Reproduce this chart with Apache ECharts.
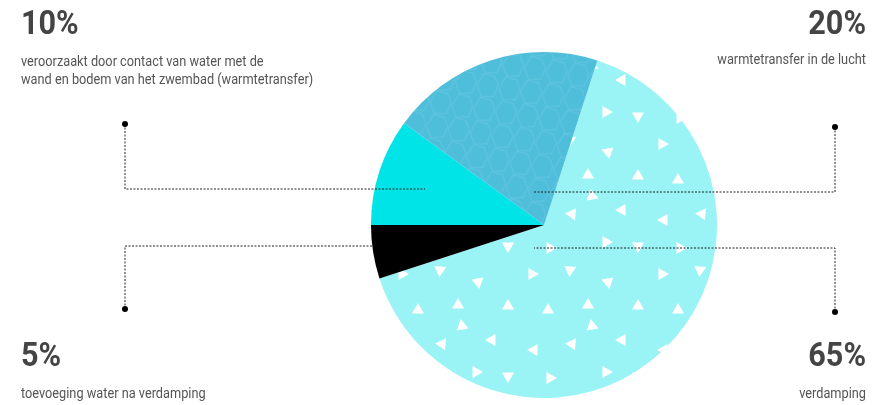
<!DOCTYPE html>
<html>
<head>
<meta charset="utf-8">
<script src="https://cdn.jsdelivr.net/npm/echarts@6/dist/echarts.min.js"></script>
<style>
html,body{margin:0;padding:0;background:#fff;}
#chart{width:874px;height:405px;}
</style>
</head>
<body>
<div id="chart"></div>
<script>
// Data (clockwise order starting near top)
const categories = ['verdamping', 'toevoeging water na verdamping', 'veroorzaakt door contact van water met de wand en bodem van het zwembad (warmtetransfer)', 'warmtetransfer in de lucht'];
const values = [65, 5, 10, 20];
const percentLabels = ['65%', '5%', '10%', '20%'];
const descLines = [
  ['verdamping'],
  ['toevoeging water na verdamping'],
  ['veroorzaakt door contact van water met de', 'wand en bodem van het zwembad (warmtetransfer)'],
  ['warmtetransfer in de lucht']
];
const colors = ['#9af3f5', '#000000', '#00e4e8', '#4fbedb'];

// decorative triangle texture (hand placed centers/angles in a 130px tile)
const tri = [[12,14,0],[50,10,95],[88,22,200],[118,46,30],[28,50,150],[68,45,270],[102,80,60],[14,90,300],[52,84,185],[86,112,120],[30,118,240],[118,116,330],[72,66,20]];
function triPath(list, size, tile) {
  let p = 'M0 0 L0.05 0 L0 0.05 Z M' + tile + ' ' + tile + ' L' + (tile-0.05) + ' ' + tile + ' L' + tile + ' ' + (tile-0.05) + ' Z ';
  list.forEach(([cx, cy, a]) => {
    const pts = [0, 120, 240].map(d => {
      const r = (a + d) * Math.PI / 180;
      return [(cx + size * Math.cos(r)).toFixed(2), (cy + size * Math.sin(r)).toFixed(2)];
    });
    p += 'M' + pts[0].join(' ') + ' L' + pts[1].join(' ') + ' L' + pts[2].join(' ') + ' Z ';
  });
  return 'path://' + p;
}
// cell outline texture for the 20% slice
function ringPath() {
  const outer = [[6,0],[17,1],[22,10],[19,22],[7,24],[1,13]];
  const inner = [[6.8,1],[16.4,1.9],[21,10.1],[18.3,21.1],[7.5,23],[2,12.8]];
  let p = 'M' + outer.map(q => q.join(' ')).join(' L') + ' Z ';
  p += 'M' + inner.slice().reverse().map(q => q.join(' ')).join(' L') + ' Z';
  return 'path://' + p;
}

const chart = echarts.init(document.getElementById('chart'), null, {renderer: 'canvas'});

const data = values.map((v, i) => {
  const item = { name: categories[i], value: v, itemStyle: { color: colors[i] } };
  if (i === 0) {
    item.itemStyle.decal = {
      symbol: triPath(tri, 7, 130), symbolSize: 1, symbolKeepAspect: true,
      color: '#ffffff', dashArrayX: [[130, 0]], dashArrayY: [130, 0], rotation: 0
    };
  }
  if (i === 3) {
    item.itemStyle.decal = {
      symbol: ringPath(), symbolSize: 1, symbolKeepAspect: false,
      color: 'rgba(255,255,255,0.11)', dashArrayX: [[22, 0]], dashArrayY: [24, 0], rotation: 0.15
    };
  }
  return item;
});

const txtColor = '#444444';
const pctFont = 'bold 34px Roboto';
const descFont = '15px Roboto';

function textEl(str, x, y, align, font, color, sx) {
  return { type: 'text', x: x, y: y, scaleX: sx, z: 100,
    style: { text: str, font: font, fill: color, align: align, verticalAlign: 'middle' } };
}
function lineEl(points) {
  return { type: 'polyline', z: 100, shape: { points: points },
    style: { stroke: '#222', lineWidth: 1, lineDash: [2, 1.5], fill: null } };
}
function dotEl(x, y) {
  return { type: 'circle', z: 100, shape: { cx: x, cy: y, r: 3 }, style: { fill: '#000' } };
}
const ps = 0.9, ds = 0.85;

const graphics = [
  // 10% top-left
  textEl(percentLabels[2], 21, 25, 'left', pctFont, txtColor, ps),
  textEl(descLines[2][0], 21, 62, 'left', descFont, '#555', ds),
  textEl(descLines[2][1], 21, 80, 'left', descFont, '#555', ds),
  // 20% top-right
  textEl(percentLabels[3], 866, 25, 'right', pctFont, txtColor, ps),
  textEl(descLines[3][0], 866, 60, 'right', descFont, '#555', ds),
  // 5% bottom-left
  textEl(percentLabels[1], 21, 357, 'left', pctFont, txtColor, ps),
  textEl(descLines[1][0], 21, 394, 'left', descFont, '#555', ds),
  // 65% bottom-right
  textEl(percentLabels[0], 866, 357, 'right', pctFont, txtColor, ps),
  textEl(descLines[0][0], 866, 394, 'right', descFont, '#555', ds),
  // leader lines
  lineEl([[125, 124], [125, 189], [425, 189]]),
  lineEl([[125, 309], [125, 246], [372, 246]]),
  lineEl([[835, 127], [835, 192], [534, 192]]),
  lineEl([[835, 312], [835, 248], [534, 248]]),
  dotEl(125, 124), dotEl(125, 309), dotEl(835, 127), dotEl(835, 312)
];

chart.setOption({
  animation: false,
  backgroundColor: '#ffffff',
  series: [{
    type: 'pie',
    center: [544, 225],
    radius: [0, 173],
    startAngle: 72,
    clockwise: true,
    label: { show: false },
    labelLine: { show: false },
    itemStyle: { borderWidth: 0 },
    emphasis: { disabled: true },
    data: data
  }],
  graphic: graphics
});
</script>
</body>
</html>
